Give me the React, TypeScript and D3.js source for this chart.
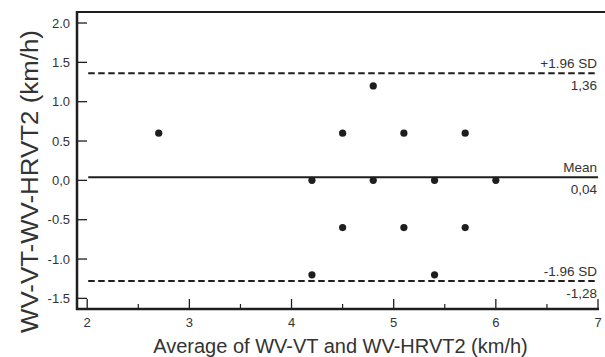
import React from "react";
import * as d3 from "d3";

const pointsX = [2.7, 4.5, 5.1, 5.7, 4.8, 4.2, 4.8, 5.4, 6.0, 4.5, 5.1, 5.7, 4.2, 5.4];
const pointsY = [0.6, 0.6, 0.6, 0.6, 1.2, 0, 0, 0, 0, -0.6, -0.6, -0.6, -1.2, -1.2];
const yTicks = [2.0, 1.5, 1.0, 0.5, 0.0, -0.5, -1.0, -1.5];
const yTickLabels = ["2.0", "1.5", "1.0", "0.5", "0,0", "-0.5", "-1.0", "-1.5"];
const xTicks = [2, 3, 4, 5, 6, 7];
const xMinorTicks = [2.5, 3.5, 4.5, 5.5, 6.5];
const meanValue = 0.04;
const upperValue = 1.36;
const lowerValue = -1.28;
const refLines = [
  { value: upperValue, name: "+1.96 SD", label: "1,36", dashed: true },
  { value: meanValue, name: "Mean", label: "0,04", dashed: false },
  { value: lowerValue, name: "-1.96 SD", label: "-1,28", dashed: true },
];

const W = 605;
const H = 357;
const left = 77;
const right = 598;
const top = 12;
const bottom = 309;

export default function App() {
  const x = d3.scaleLinear().domain([1.9, 7.0]).range([left, right]);
  const y = d3.scaleLinear().domain([-1.635, 2.14]).range([bottom, top]);
  const font = "Liberation Sans, Arial, sans-serif";
  const ink = "#1e1e1e";
  const txt = "#333";
  return (
    <svg
      width={W}
      height={H}
      style={{ position: "absolute", left: 0, top: 0, background: "#fff" }}
      fontFamily={font}
    >
      {/* frame */}
      <line x1={left} x2={W} y1={top} y2={top} stroke={ink} strokeWidth={2} />
      <line x1={left} x2={left} y1={top - 1} y2={bottom + 1} stroke={ink} strokeWidth={2.5} />
      <line x1={left - 1} x2={right + 1} y1={bottom} y2={bottom} stroke={ink} strokeWidth={2.5} />
      {/* y ticks */}
      {yTicks.map((t, i) => (
        <g key={"yt" + i}>
          <line x1={left} x2={left + 10} y1={y(t)} y2={y(t)} stroke={ink} strokeWidth={1.3} />
          <text x={left - 7} y={y(t) + 4.5} textAnchor="end" fontSize={13} fill={txt}>
            {yTickLabels[i]}
          </text>
        </g>
      ))}
      {/* x ticks */}
      {xTicks.map((t) => (
        <g key={"xt" + t}>
          <line x1={x(t)} x2={x(t)} y1={bottom} y2={bottom - 10} stroke={ink} strokeWidth={1.3} />
          <text x={x(t)} y={bottom + 18} textAnchor="middle" fontSize={13} fill={txt}>
            {t}
          </text>
        </g>
      ))}
      {xMinorTicks.map((t) => (
        <line key={"xm" + t} x1={x(t)} x2={x(t)} y1={bottom} y2={bottom - 5} stroke={ink} strokeWidth={1.2} />
      ))}
      {/* reference lines */}
      {refLines.map((r) => (
        <g key={r.name}>
          <line
            x1={x(2.0) + 1}
            x2={x(7.0)}
            y1={y(r.value)}
            y2={y(r.value)}
            stroke={ink}
            strokeWidth={2}
            strokeDasharray={r.dashed ? "6.5,3.5" : undefined}
          />
          <text x={x(7.0) - 1} y={y(r.value) - 5} textAnchor="end" fontSize={13.5} fill={txt}>
            {r.name}
          </text>
          <text x={x(7.0) - 1} y={y(r.value) + 17} textAnchor="end" fontSize={13.5} fill={txt}>
            {r.label}
          </text>
        </g>
      ))}
      {/* points */}
      {pointsX.map((px, i) => (
        <circle key={"p" + i} cx={x(px)} cy={y(pointsY[i])} r={3.6} fill={ink} />
      ))}
      {/* axis titles */}
      <text x={(151 + 530) / 2} y={353} textAnchor="middle" fontSize={20} fill={txt}>
        Average of WV-VT and WV-HRVT2 (km/h)
      </text>
      <text
        transform={`translate(38, ${(30 + 333) / 2}) rotate(-90)`}
        textAnchor="middle"
        fontSize={23}
        fill={txt}
        textLength={303}
        lengthAdjust="spacingAndGlyphs"
      >
        WV-VT-WV-HRVT2 (km/h)
      </text>
    </svg>
  );
}
